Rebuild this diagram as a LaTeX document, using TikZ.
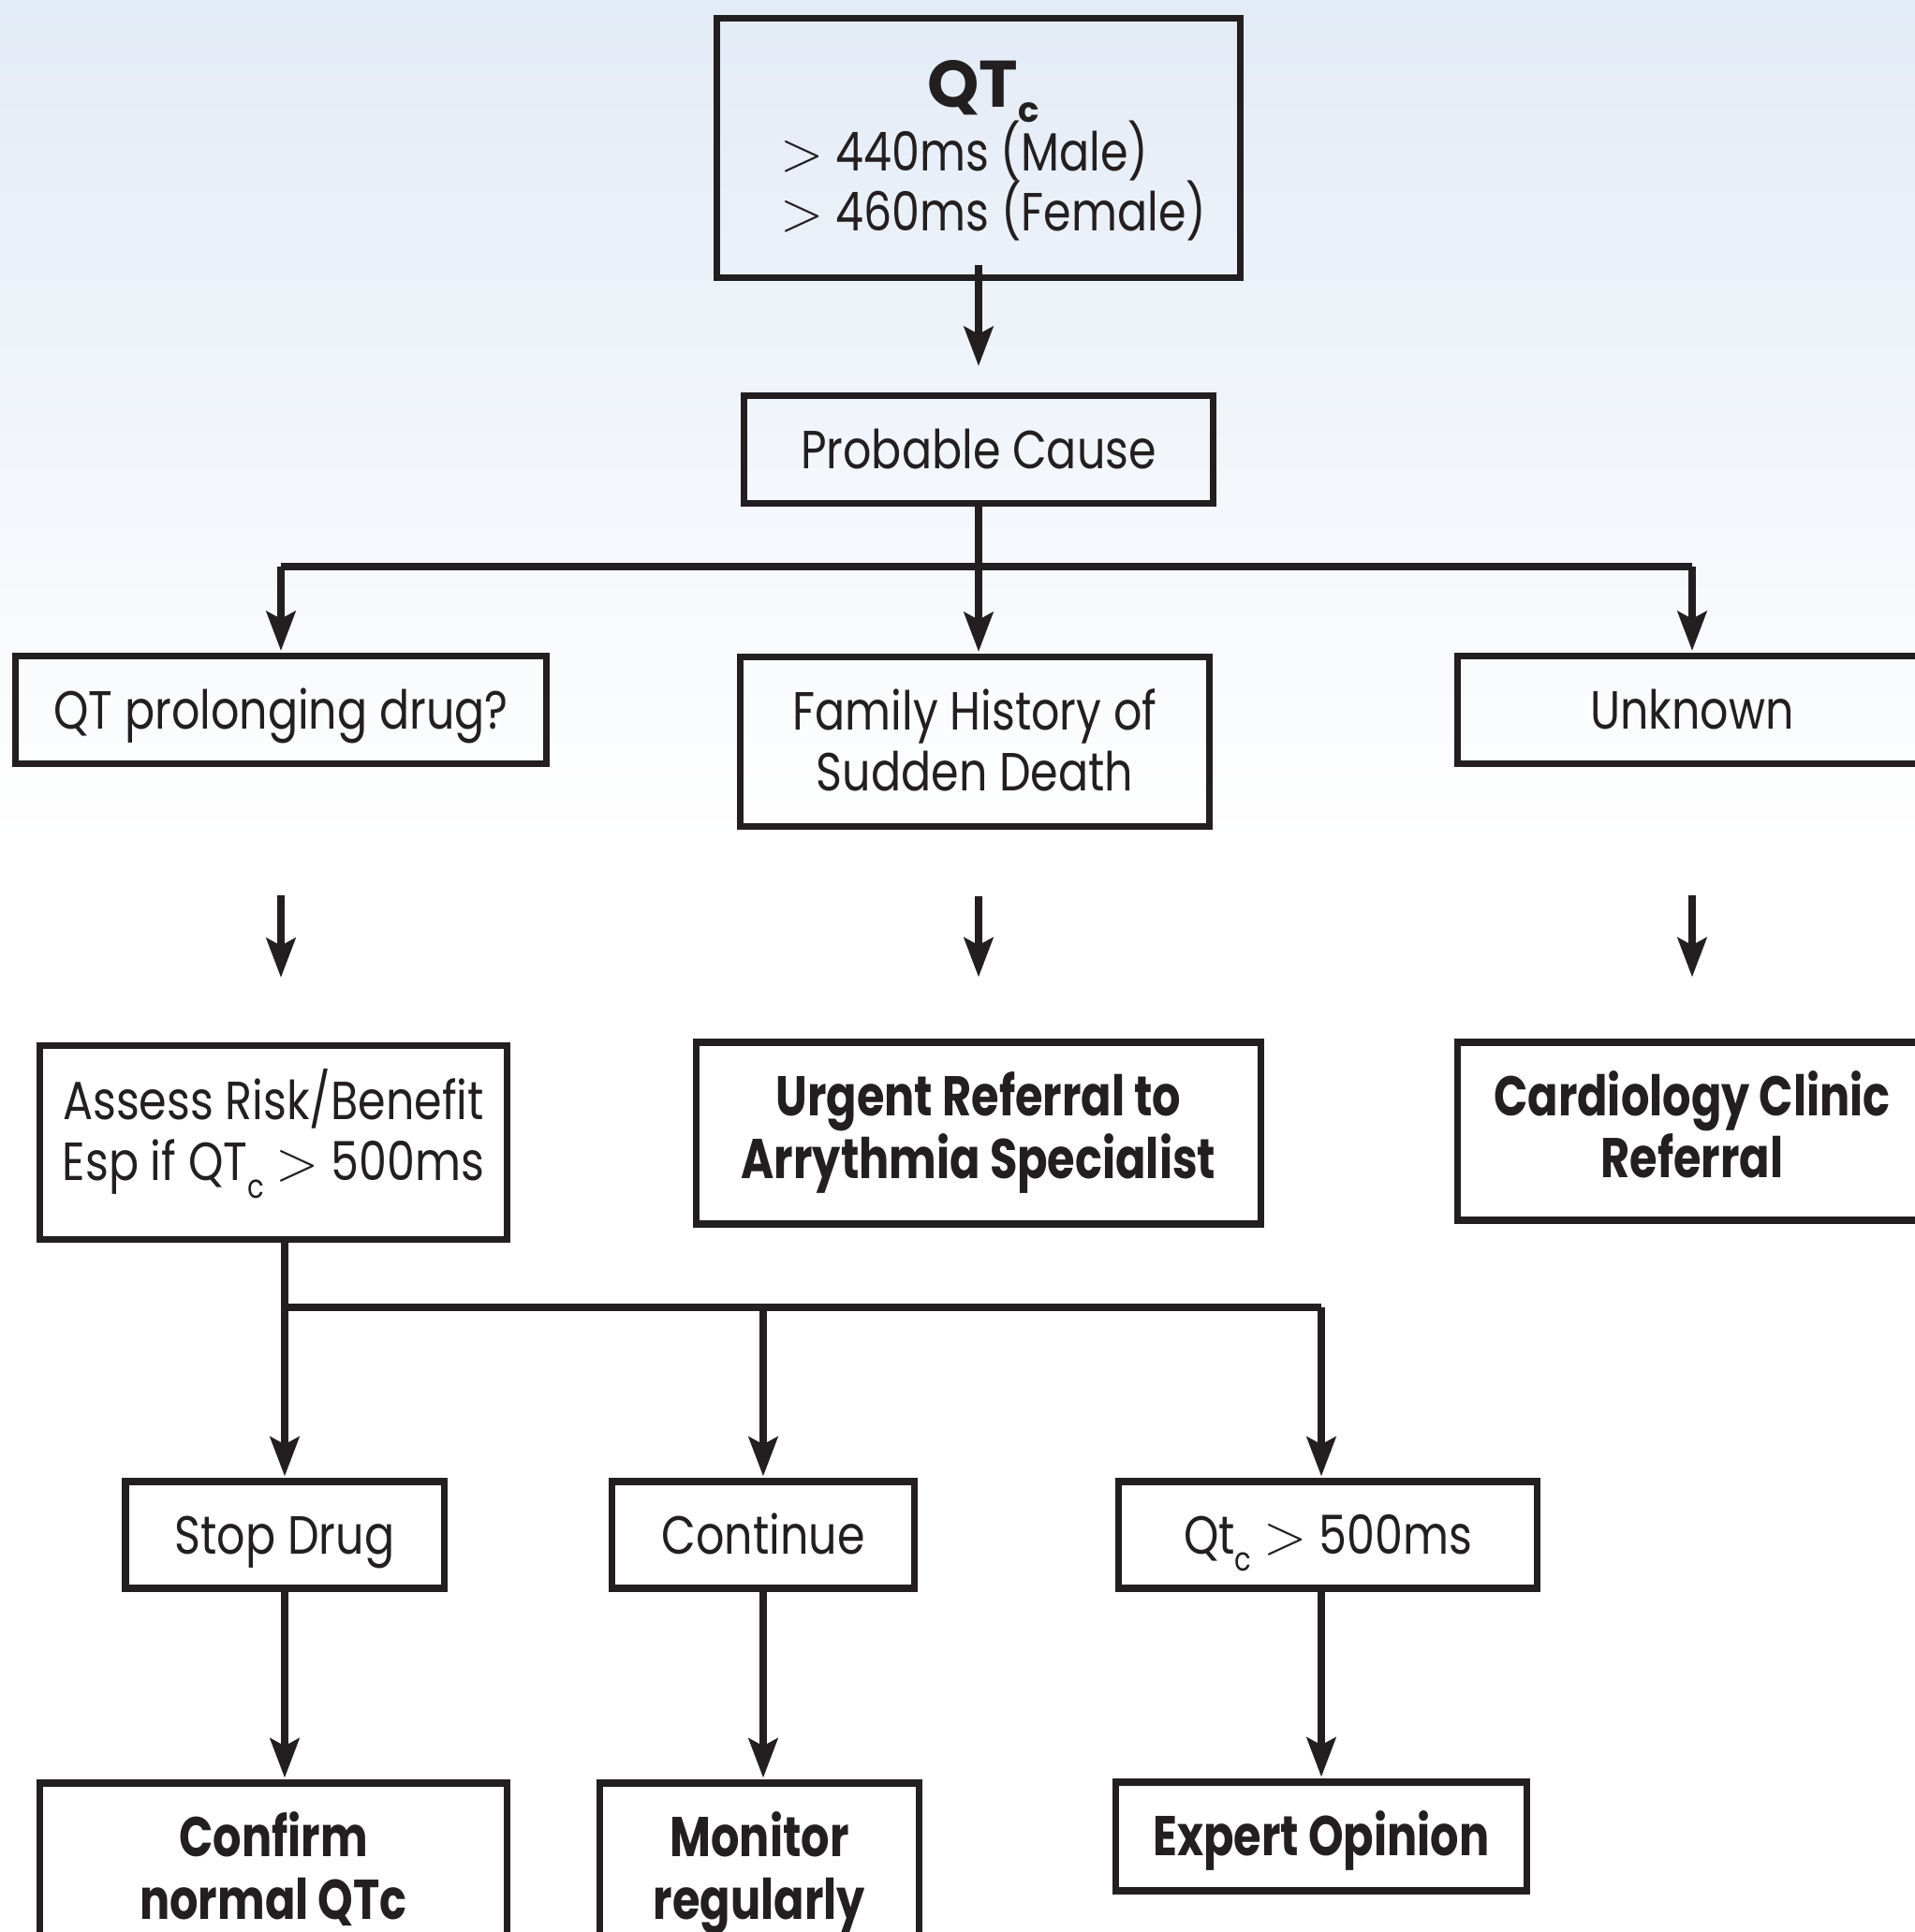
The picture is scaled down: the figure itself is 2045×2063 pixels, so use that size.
\documentclass[tikz,border=0pt]{standalone}
\usepackage{fontspec}
\setmainfont[FakeStretch=0.83, BoldFeatures={FakeStretch=0.80}]{Poppins}
\newfontfamily\widefont{Poppins}
\usetikzlibrary{arrows.meta}
\definecolor{ink}{HTML}{231F20}
\definecolor{bgtop}{HTML}{E3EBF6}
\newcommand{\subc}{\raisebox{-0.6ex}{\fontsize{10}{10}\selectfont c}}
\newcommand{\gt}{$>$}
% fixed height / depth for a text line
\newcommand{\lh}[3]{\raisebox{0pt}[#1][#2]{#3}}
\begin{document}
\begin{tikzpicture}[x=0.01cm,y=-0.01cm,
  box/.style={draw=ink, line width=0.072cm, inner sep=0pt, align=center, text=ink,
    font=\fontsize{16.3}{18.4}\selectfont},
  bbox/.style={box, font=\fontsize{17}{18.8}\selectfont\bfseries},
  one/.style={text height=14pt, text depth=2.6pt},
  oneb/.style={text height=14.5pt, text depth=2.6pt},
  txt/.style={inner sep=0pt, text=ink, font=\fontsize{16.3}{18.4}\selectfont},
  ln/.style={draw=ink, line width=0.075cm},
  arr/.style={ln, -{Stealth[length=0.42cm,width=0.31cm,inset=0.08cm]}, shorten >=0.02cm},
]
\useasboundingbox (0,0) rectangle (2045,2063);
\clip (0,0) rectangle (2045,2063);
\fill[top color=bgtop, bottom color=white] (0,0) rectangle (2045,900);
\fill[white] (0,899) rectangle (2045,2063);

% top box and its texts
\node[box, minimum width=5.58cm, minimum height=2.77cm] (top) at (1045,158) {};
\node[txt, anchor=base, font=\fontsize{20}{20}\selectfont\widefont\bfseries] (qtl) at (1050,114)
  {QT\raisebox{-4.6pt}{\fontsize{10.5}{10.5}\selectfont c}};
\node[txt, anchor=base west] (male) at (833,182) {\gt\ 440ms (Male)};
\node[txt, anchor=base west] (female) at (833,246) {\gt\ 460ms (Female)};

% other boxes
\node[box, one, minimum width=5.00cm, minimum height=1.15cm] (pc) at (1045,480) {Probable Cause};
\node[box, one, minimum width=5.67cm, minimum height=1.15cm] (qtd) at (300,758) {QT prolonging drug?};
\node[box, minimum width=5.00cm, minimum height=1.81cm] (fam) at (1041,792)
  {\lh{11.4pt}{0pt}{Family History of}\\\lh{11.4pt}{0pt}{Sudden Death}};
\node[box, one, minimum width=5.00cm, minimum height=1.15cm] (unk) at (1807,758) {Unknown};
\node[box, minimum width=4.99cm, minimum height=2.07cm] (assess) at (292,1220)
  {\lh{11.4pt}{0pt}{Assess Risk/Benefit}\\\lh{11.4pt}{6.8pt}{Esp if QT\subc\ \gt\ 500ms}};
\node[bbox, minimum width=6.02cm, minimum height=1.94cm] (urg) at (1045,1210)
  {\lh{11.9pt}{0pt}{Urgent Referral to}\\\lh{11.9pt}{3.4pt}{Arrythmia Specialist}};
\node[bbox, minimum width=5.00cm, minimum height=1.90cm] (card) at (1807,1208)
  {\lh{11.9pt}{0pt}{Cardiology Clinic}\\\lh{11.9pt}{2.4pt}{Referral}};
\node[box, one, minimum width=3.40cm, minimum height=1.14cm] (stop) at (304,1639) {Stop Drug};
\node[box, one, minimum width=3.23cm, minimum height=1.14cm] (cont) at (815,1639) {Continue};
\node[box, one, minimum width=4.47cm, minimum height=1.14cm] (qtc) at (1418,1639) {Qt\subc\ \gt\ 500ms};
\node[bbox, minimum width=4.99cm, minimum height=1.82cm] (conf) at (292,1995)
  {\lh{11.9pt}{0pt}{Confirm}\\\lh{11.9pt}{0pt}{normal QTc}};
\node[bbox, minimum width=3.41cm, minimum height=1.82cm] (mon) at (811,1995)
  {\lh{11.9pt}{0pt}{Monitor}\\\lh{11.9pt}{0pt}{regularly}};
\node[bbox, oneb, minimum width=4.39cm, minimum height=1.16cm] (exp) at (1411,1961) {Expert Opinion};

% junctions
\coordinate (j1) at (1045,605);
\coordinate (j2) at (304,1396);

% connectors
\draw[arr, shorten >=0.28cm] ([yshift=0.17cm]top.south) -- (pc.north);
\draw[ln] (pc.south) -- (j1);
\draw[ln] (qtd.north |- j1) -- (unk.north |- j1);
\draw[arr] (qtd.north |- j1) -- (qtd.north);
\draw[arr] (j1) -- (j1 |- fam.north);
\draw[arr] (unk.north |- j1) -- (unk.north);

\draw[arr, shorten <=1.37cm, shorten >=0.69cm] (qtd.south) -- (qtd.south |- assess.north);
\draw[arr, shorten <=0.71cm, shorten >=0.66cm] (j1 |- fam.south) -- (j1 |- urg.north);
\draw[arr, shorten <=1.37cm, shorten >=0.66cm] (unk.south) -- (card.north);

\draw[ln] (j2 |- assess.south) -- (j2);
\draw[ln] (j2) -- (exp.north |- j2);
\draw[arr] (j2) -- (stop.north);
\draw[arr] (cont.north |- j2) -- (cont.north);
\draw[arr] (exp.north |- j2) -- (exp.north |- qtc.north);

\draw[arr] (stop.south) -- (stop.south |- conf.north);
\draw[arr] (cont.south) -- (cont.south |- mon.north);
\draw[arr] (exp.north |- qtc.south) -- (exp.north);
\end{tikzpicture}
\end{document}
